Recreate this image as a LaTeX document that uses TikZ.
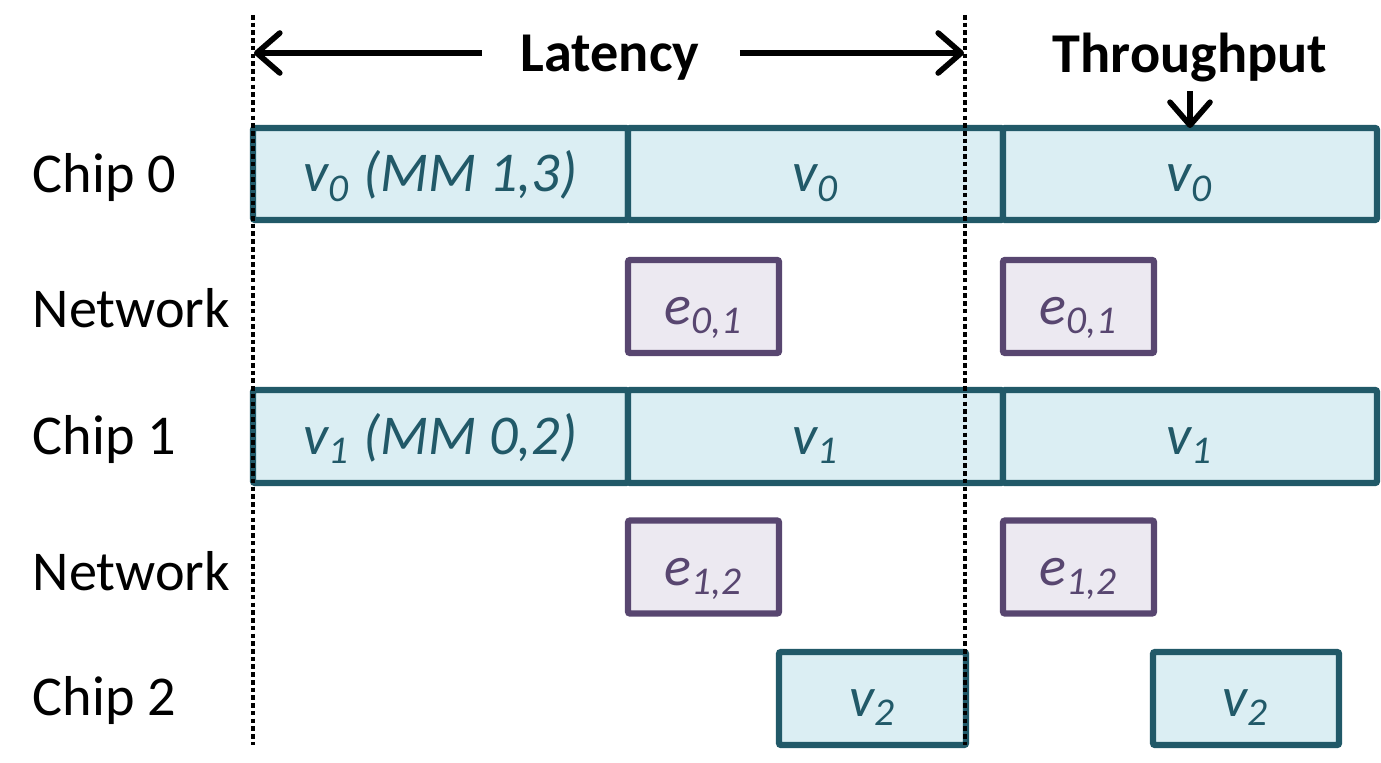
\documentclass[tikz,border=0pt]{standalone}
\usepackage{fontspec}
\setmainfont{Carlito}
\usepackage{xcolor}
\usetikzlibrary{arrows.meta, positioning}

\definecolor{chipline}{RGB}{33,89,104}
\definecolor{chipfill}{RGB}{219,238,243}
\definecolor{netline}{RGB}{88,70,112}
\definecolor{netfill}{RGB}{236,233,241}

\begin{document}
\begin{tikzpicture}[
      chipbox/.style = {shape=rectangle, rounded corners=0.6pt, draw=chipline,
        fill=chipfill, line width=1.8pt, text=chipline, inner sep=0pt,
        outer sep=0pt, text height=0.44cm, text depth=0.08cm,
        font=\fontsize{16}{19}\selectfont\itshape},
      netbox/.style = {chipbox, draw=netline, fill=netfill, text=netline,
        minimum width=1.51cm, minimum height=0.93cm},
      rowlabel/.style = {anchor=west, inner sep=0pt,
        font=\fontsize{16}{19}\selectfont},
      headlabel/.style = {inner sep=0pt, font=\fontsize{16}{19}\selectfont\bfseries},
      timearrow/.style = {line width=1.6pt,
        -{Straight Barb[length=2.3mm, width=4mm, round]}},
      cutline/.style = {line width=1.1pt, dash pattern=on 1.3pt off 0.9pt}
    ]
      \useasboundingbox (0,0) rectangle (13.81,-7.63);

      \node[rowlabel] (r0) at (0.32,-1.78) {Chip 0};
      \node[rowlabel] (r1) at (0.32,-3.08) {Network};
      \node[rowlabel] (r2) at (0.32,-4.40) {Chip 1};
      \node[rowlabel] (r3) at (0.32,-5.71) {Network};
      \node[rowlabel] (r4) at (0.32,-7.01) {Chip 2};

      \node[chipbox, minimum width=3.75cm, minimum height=0.92cm] (c0a) at (4.405,-1.74) {v\textsubscript{0} (MM 1,3)};
      \node[chipbox, minimum width=3.75cm, minimum height=0.92cm] (c0b) at (8.155,-1.74) {v\textsubscript{0}};
      \node[chipbox, minimum width=3.74cm, minimum height=0.92cm] (c0c) at (11.90,-1.74) {v\textsubscript{0}};

      \node[netbox] (n0a) at (7.035,-3.065) {e\textsubscript{0,1}};
      \node[netbox] (n0b) at (10.785,-3.065) {e\textsubscript{0,1}};

      \node[chipbox, minimum width=3.75cm, minimum height=0.93cm] (c1a) at (4.405,-4.365) {v\textsubscript{1} (MM 0,2)};
      \node[chipbox, minimum width=3.75cm, minimum height=0.93cm] (c1b) at (8.155,-4.365) {v\textsubscript{1}};
      \node[chipbox, minimum width=3.74cm, minimum height=0.93cm] (c1c) at (11.90,-4.365) {v\textsubscript{1}};

      \node[netbox] (n1a) at (7.035,-5.67) {e\textsubscript{1,2}};
      \node[netbox] (n1b) at (10.785,-5.67) {e\textsubscript{1,2}};

      \node[chipbox, minimum width=1.87cm, minimum height=0.93cm] (c2a) at (8.725,-6.985) {v\textsubscript{2}};
      \node[chipbox, minimum width=1.86cm, minimum height=0.93cm] (c2b) at (12.46,-6.985) {v\textsubscript{2}};

      % cut lines for one pass
      \coordinate (d0t) at (2.53,-0.15);
      \coordinate (d0b) at (2.53,-7.45);
      \coordinate (d1t) at (9.65,-0.15);
      \coordinate (d1b) at (9.65,-7.45);
      \draw[cutline] (d0t) -- (d0b);
      \draw[cutline] (d1t) -- (d1b);

      \node[headlabel] (lat) at (6.10,-0.58) {Latency};
      \coordinate (lat0) at (2.54,-0.53);
      \coordinate (lat1) at (9.64,-0.53);
      \draw[timearrow] ([xshift=-0.38cm]lat.west |- lat0) -- (lat0);
      \draw[timearrow] ([xshift=0.40cm]lat.east |- lat1) -- (lat1);

      \node[headlabel] (thr) at (11.90,-0.58) {Throughput};
      \draw[timearrow] ([yshift=-0.08cm]thr.south -| c0c.north) -- (c0c.north);
    \end{tikzpicture}
\end{document}
